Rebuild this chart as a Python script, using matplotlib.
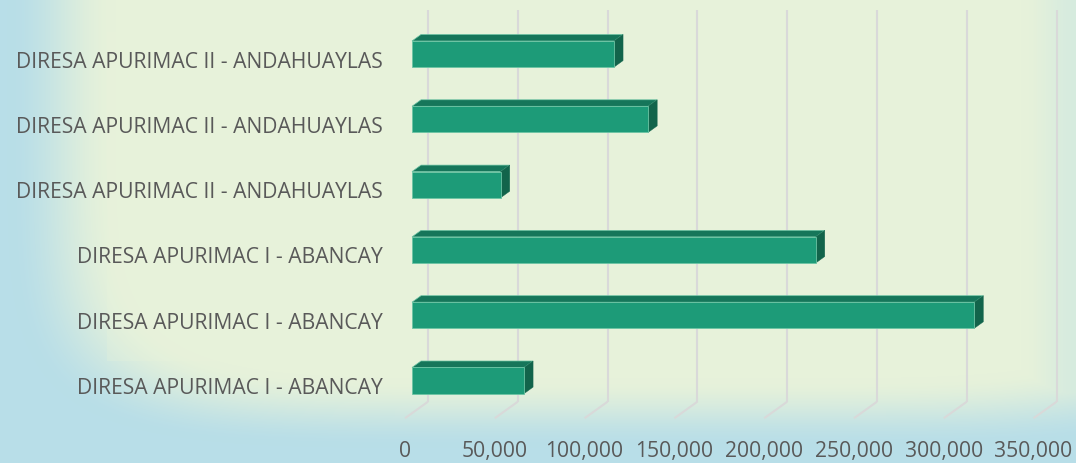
import numpy as np
import matplotlib
matplotlib.use("Agg")
import matplotlib.pyplot as plt
from matplotlib.patches import Polygon, Rectangle
from matplotlib.transforms import offset_copy

# ---------------- data (top to bottom as displayed) ----------------
categories = [
    "DIRESA APURIMAC II - ANDAHUAYLAS",
    "DIRESA APURIMAC II - ANDAHUAYLAS",
    "DIRESA APURIMAC II - ANDAHUAYLAS",
    "DIRESA APURIMAC I - ABANCAY",
    "DIRESA APURIMAC I - ABANCAY",
    "DIRESA APURIMAC I - ABANCAY",
]
values = [112500, 131500, 49400, 224800, 313100, 62400]
xticks = [0, 50000, 100000, 150000, 200000, 250000, 300000, 350000]
xticklabels = ["0", "50,000", "100,000", "150,000", "200,000", "250,000", "300,000", "350,000"]

# ---------------- styles ----------------
W, H, DPI = 1076, 463, 100
FONT = "Open Sans"
TEXT_COLOR = "#595959"
GRID_COLOR = "#D9D9D9"
FRONT = "#1D9B78"
TOP = "#16765A"
SIDE = "#12644B"
EDGE = "#6CC4A4"

fig = plt.figure(figsize=(W / DPI, H / DPI), dpi=DPI)

# background gradient
bg = fig.add_axes([0, 0, 1, 1], zorder=0)
bg.axis("off")
yy, xx = np.mgrid[0:H, 0:W].astype(float)


def smooth(e0, e1, x):
    s = np.clip((x - e0) / (e1 - e0), 0, 1)
    return s * s * (3 - 2 * s)


p = 6.0
r = (np.abs((xx - 640) / 640.0) ** p + np.abs((yy - 40) / 412.0) ** p) ** (1.0 / p)
t = smooth(0.82, 0.99, r)
t = np.maximum(t, 0.35 * smooth(1020, 1076, xx))
green = np.array([231, 242, 218]) / 255.0
blue = np.array([184, 222, 232]) / 255.0
img = green * (1 - t[..., None]) + blue * t[..., None]
bg.imshow(img, extent=[0, W, H, 0], aspect="auto", interpolation="bilinear")
bg.set_xlim(0, W)
bg.set_ylim(H, 0)
bg.add_patch(Rectangle((107, 32), 910, 329, facecolor=(0.918, 0.957, 0.859),
                       alpha=0.25, lw=0))

# main axes (front plane of bars)
PX_PER_50K = 89.8
L = 412.0
R = L + 7 * PX_PER_50K
T, B = 21.4, 413.2
ax = fig.add_axes([L / W, (H - B) / H, (R - L) / W, (B - T) / H], zorder=1)
ax.set_xlim(0, xticks[-1])
n = len(values)
ax.set_ylim(-0.5, n - 0.5)
ax.axis("off")
ax.patch.set_alpha(0)

px_x = (R - L) / xticks[-1]
px_y = (B - T) / n


def off(dxp, dyp):
    return dxp / px_x, dyp / px_y


# gridlines: back wall and floor
bx, by = off(16, 11.5)
fx, fy = off(-7, -5)
for v in xticks:
    ax.plot([v + bx, v + bx], [n - 0.5 + by, -0.5 + by], color=GRID_COLOR,
            lw=1.5, clip_on=False, zorder=1, solid_capstyle="butt")
    ax.plot([v + bx, v + fx], [-0.5 + by, -0.5 + fy], color=GRID_COLOR,
            lw=1.5, clip_on=False, zorder=1, solid_capstyle="butt")

# 3D bars
dx, dy = off(9, 6.5)
hh = 0.2
for k, v in enumerate(values):
    y = n - 1 - k
    top = Polygon([(0, y + hh), (v, y + hh), (v + dx, y + hh + dy), (dx, y + hh + dy)],
                  closed=True, facecolor=TOP, edgecolor=EDGE, lw=0.5, clip_on=False, zorder=3)
    side = Polygon([(v, y - hh), (v + dx, y - hh + dy), (v + dx, y + hh + dy), (v, y + hh)],
                   closed=True, facecolor=SIDE, edgecolor=SIDE, lw=0.3, clip_on=False, zorder=3)
    front = Rectangle((0, y - hh), v, 2 * hh, facecolor=FRONT, edgecolor=EDGE,
                      lw=0.6, clip_on=False, zorder=4)
    ax.add_patch(top)
    ax.add_patch(side)
    ax.add_patch(front)

# fit font size so the long label is ~367 px wide
renderer = fig.canvas.get_renderer()
probe = fig.text(0, 0, "DIRESA APURIMAC II - ANDAHUAYLAS", fontsize=12, family=FONT)
w12 = probe.get_window_extent(renderer).width
probe.remove()
fs = 12 * 367.0 / w12

# category labels (baseline ~13.5 px below bar centre)
lab_tr = offset_copy(ax.transData, fig=fig, x=-29, y=-13.5, units="dots")
for k, lab in enumerate(categories):
    y = n - 1 - k
    ax.text(0, y, lab, transform=lab_tr, ha="right", va="baseline",
            fontsize=fs, family=FONT, color=TEXT_COLOR, clip_on=False)

# x tick labels under floor front (baseline at image y ~457)
tick_tr = offset_copy(ax.transData, fig=fig, x=-7, y=-(457.0 - B), units="dots")
for v, lab in zip(xticks, xticklabels):
    ax.text(v, -0.5, lab, transform=tick_tr, ha="center", va="baseline",
            fontsize=fs, family=FONT, color=TEXT_COLOR, clip_on=False)

fig.savefig("out.png", dpi=DPI)
